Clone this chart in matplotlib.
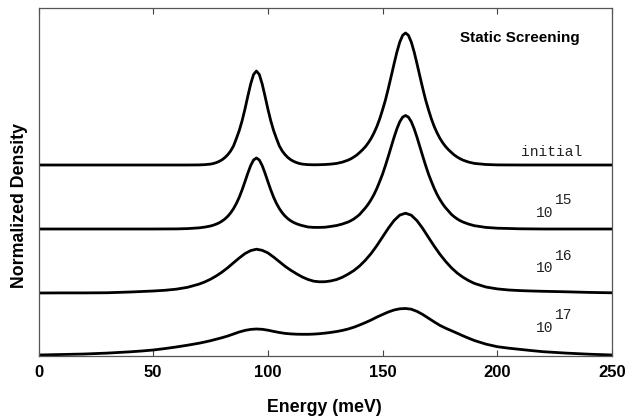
import matplotlib
matplotlib.use("Agg")
import matplotlib.pyplot as plt

# Fine energy grid (meV) for the two sharp curves
energy_fine = [0, 10, 20, 30, 40, 50, 60, 65, 70, 72.5,
               75, 76.25, 77.5, 78.75, 80, 81.25, 82.5, 83.75, 85, 86.25, 87.5,
               88.75, 90, 91.25, 92.5, 93.75, 95, 96.25, 97.5, 98.75, 100, 101.25,
               102.5, 103.75, 105, 106.25, 107.5, 108.75, 110, 111.25, 112.5,
               113.75, 115,
               117.5, 120, 122.5, 125, 127.5, 130, 132.5,
               135, 136.25, 137.5, 138.75, 140, 141.25, 142.5, 143.75, 145,
               146.25, 147.5, 148.75, 150, 151.25, 152.5, 153.75, 155, 156.25,
               157.5, 158.75, 160, 161.25, 162.5, 163.75, 165, 166.25, 167.5,
               168.75, 170, 171.25, 172.5, 173.75, 175, 176.25, 177.5, 178.75,
               180, 181.25, 182.5, 183.75, 185,
               187.5, 190, 195, 200, 210, 220, 230, 240, 250]

# Energy grid (meV) for the two broadened curves
energy_broad = [0, 10, 20, 30, 40, 45, 50, 55, 60, 65,
                70, 72.5, 75, 77.5, 80, 82.5, 85, 87.5, 90, 92.5, 95,
                97.5, 100, 102.5, 105, 107.5, 110, 112.5, 115, 117.5, 120, 122.5,
                125, 127.5, 130, 132.5, 135, 137.5, 140, 142.5, 145, 147.5, 150,
                152.5, 155, 157.5, 160,
                162.5, 165, 167.5, 170, 172.5, 175, 177.5, 180, 182.5, 185,
                187.5, 190,
                195, 200, 205, 210, 215, 220, 230, 240, 250]

# Normalized density of each curve (above its own baseline)
dens_initial = [0, 0, 0, 0, 0, 0, 0, 0, 0.1, 0.35,
                0.9, 1.5, 2.4, 3.6, 5.2, 7.4, 10.3, 14, 19, 26.4, 34.4, 44.2,
                55.9, 68.8, 81.1, 90.5, 94, 90.5, 81.1, 68.8, 55.9, 44.2, 34.4,
                26.4, 19, 14, 10.3, 7.4, 5.2, 3.6, 2.4, 1.5, 0.9,
                0.35, 0.2, 0.3, 0.5, 0.9, 1.6, 2.9,
                4.9, 6.3, 8.0, 10.0, 12.5, 15.2, 18.3, 22.1, 26.6, 32.1, 38.5,
                46.2, 55.3, 65.1, 76.6, 88.8, 101.2, 113.1, 123.0, 129.7, 132,
                129.7, 123.0, 113.1, 101.2, 88.8, 76.6, 65.1, 55.3, 46.2, 38.5,
                32.1, 26.6, 22.1, 18.3, 15.2, 12.5, 10.0, 8.0, 6.3, 4.9,
                2.9, 1.6, 0.5, 0.1, 0, 0, 0, 0, 0]
dens_1e15 = [0, 0, 0, 0, 0, 0, 0.1, 0.4, 1.15, 1.9,
             3.0, 3.85, 4.9, 6.2, 7.9, 10.0, 12.7, 16.1, 20.3, 25.5, 31.7, 39.1,
             47.3, 55.8, 63.5, 69.0, 71, 69.0, 63.5, 55.8, 47.3, 39.1, 31.7,
             25.5, 20.4, 16.2, 12.9, 10.2, 8.1, 6.5, 5.2, 4.2, 3.4,
             2.0, 1.6, 1.6, 1.8, 2.6, 3.5, 5.0,
             7.0, 8.4, 10.1, 12.2, 14.6, 17.9, 21.1, 24.9, 29.4, 34.5, 40.6,
             47.6, 55.0, 63.6, 72.8, 82.3, 91.7, 100.3, 107.3, 111.9, 113.5,
             111.9, 107.3, 100.3, 91.7, 82.3, 72.8, 63.6, 55.0, 47.6, 40.6,
             34.5, 29.4, 24.9, 21.1, 17.9, 14.6, 12.2, 10.1, 8.4, 7.0,
             4.9, 3.3, 1.6, 0.8, 0.2, 0, 0, 0, 0]
dens_1e16 = [0, 0.1, 0.1, 0.25, 1.0, 1.5, 2.0, 2.7, 3.8, 5.7,
             8.9, 11.1, 13.8, 17.1, 20.9, 25.3, 30.2, 35.0, 39.4, 42.4, 43.8,
             42.7, 40.1, 35.9, 31.3, 26.7, 22.7, 19.2, 16.0, 13.5, 11.8, 11.2,
             11.3, 12.1, 13.5, 15.8, 18.9, 22.5, 27.1, 32.8, 39.5, 47.4, 56.1,
             64.8, 72.5, 77.9, 79.8,
             77.8, 72.3, 64.5, 55.6, 46.8, 38.7, 31.5, 25.2, 20.0, 15.8,
             12.4, 9.6,
             6.0, 4.1, 3.0, 2.4, 2.0, 1.7, 1.2, 0.6, 0.2]
dens_1e17 = [0, 0.5, 1.0, 1.9, 3.2, 4.0, 5.0, 6.4, 8.0, 9.8,
             11.8, 13.0, 14.3, 15.8, 17.3, 19.0, 21.0, 23.0, 24.6, 25.6, 26,
             25.7, 24.8, 23.6, 22.5, 21.6, 21.1, 20.8, 20.7, 20.7, 20.9, 21.3,
             21.9, 22.6, 23.5, 24.6, 26, 27.8, 30, 32.4, 35, 37.9, 40.5,
             43, 45, 46.2, 46.5,
             45.8, 43.6, 40.5, 36.8, 33.1, 29.6, 26.8, 24.3, 21.8, 19.2,
             16.8, 14.5,
             10.9, 8.3, 6.8, 5.6, 4.4, 3.3, 1.9, 0.8, 0]

# vertical offsets of the stacked curves
offsets = [190, 126, 62, 0]
grids = [energy_fine, energy_fine, energy_broad, energy_broad]
series = [dens_initial, dens_1e15, dens_1e16, dens_1e17]

# curve labels
label_main = ["initial", "10", "10", "10"]
label_sup = ["", "15", "16", "17"]

xticks = [0, 50, 100, 150, 200, 250]

W, H = 635, 417
fig = plt.figure(figsize=(W / 100, H / 100), dpi=100)
ax = fig.add_axes([38.5 / W, 1 - 355.5 / H, (612 - 38.5) / W, (355.5 - 8) / H])

for off, e, d in zip(offsets, grids, series):
    ax.plot(e, [off + v for v in d], color="black", lw=2.0,
            solid_joinstyle="round", clip_on=True)

ax.set_xlim(0, 250)
ax.set_ylim(-0.5, 347)
ax.set_yticks([])
ax.set_xticks(xticks)
ax.tick_params(axis="x", direction="in", length=4, width=0.8, top=True,
               bottom=True, pad=7, colors="#444444", labelcolor="black")
for lab in ax.get_xticklabels():
    lab.set_fontfamily("Liberation Sans")
    lab.set_fontweight("bold")
    lab.set_fontsize(12)
for s in ax.spines.values():
    s.set_color("#555555")
    s.set_linewidth(0.9)

mono = "Liberation Mono"
main_pos = [(210.5, 203.3), (217, 142), (217, 86.7), (217, 26.7)]
sup_pos = [None, (225.2, 155), (225.2, 99), (225.2, 40)]
for i in range(4):
    x, y = main_pos[i]
    ax.text(x, y, label_main[i], family=mono, fontsize=10.5, ha="left",
            va="center", color="#222222")
    if label_sup[i]:
        sx, sy = sup_pos[i]
        ax.text(sx, sy, label_sup[i], family=mono, fontsize=10.5, ha="left",
                va="center", color="#222222")

ax.text(183.6, 317, "Static Screening", family="Liberation Sans",
        fontweight="bold", fontsize=11, ha="left", va="center")

fig.text(324.7 / W, 1 - 407 / H, "Energy (meV)", family="Liberation Sans",
         fontweight="bold", fontsize=12.8, ha="center", va="center")
fig.text(20 / W, 1 - 205 / H, "Normalized Density", family="Liberation Sans",
         fontweight="bold", fontsize=12.8, ha="center", va="center",
         rotation=90)

fig.savefig("out.png", dpi=100)
